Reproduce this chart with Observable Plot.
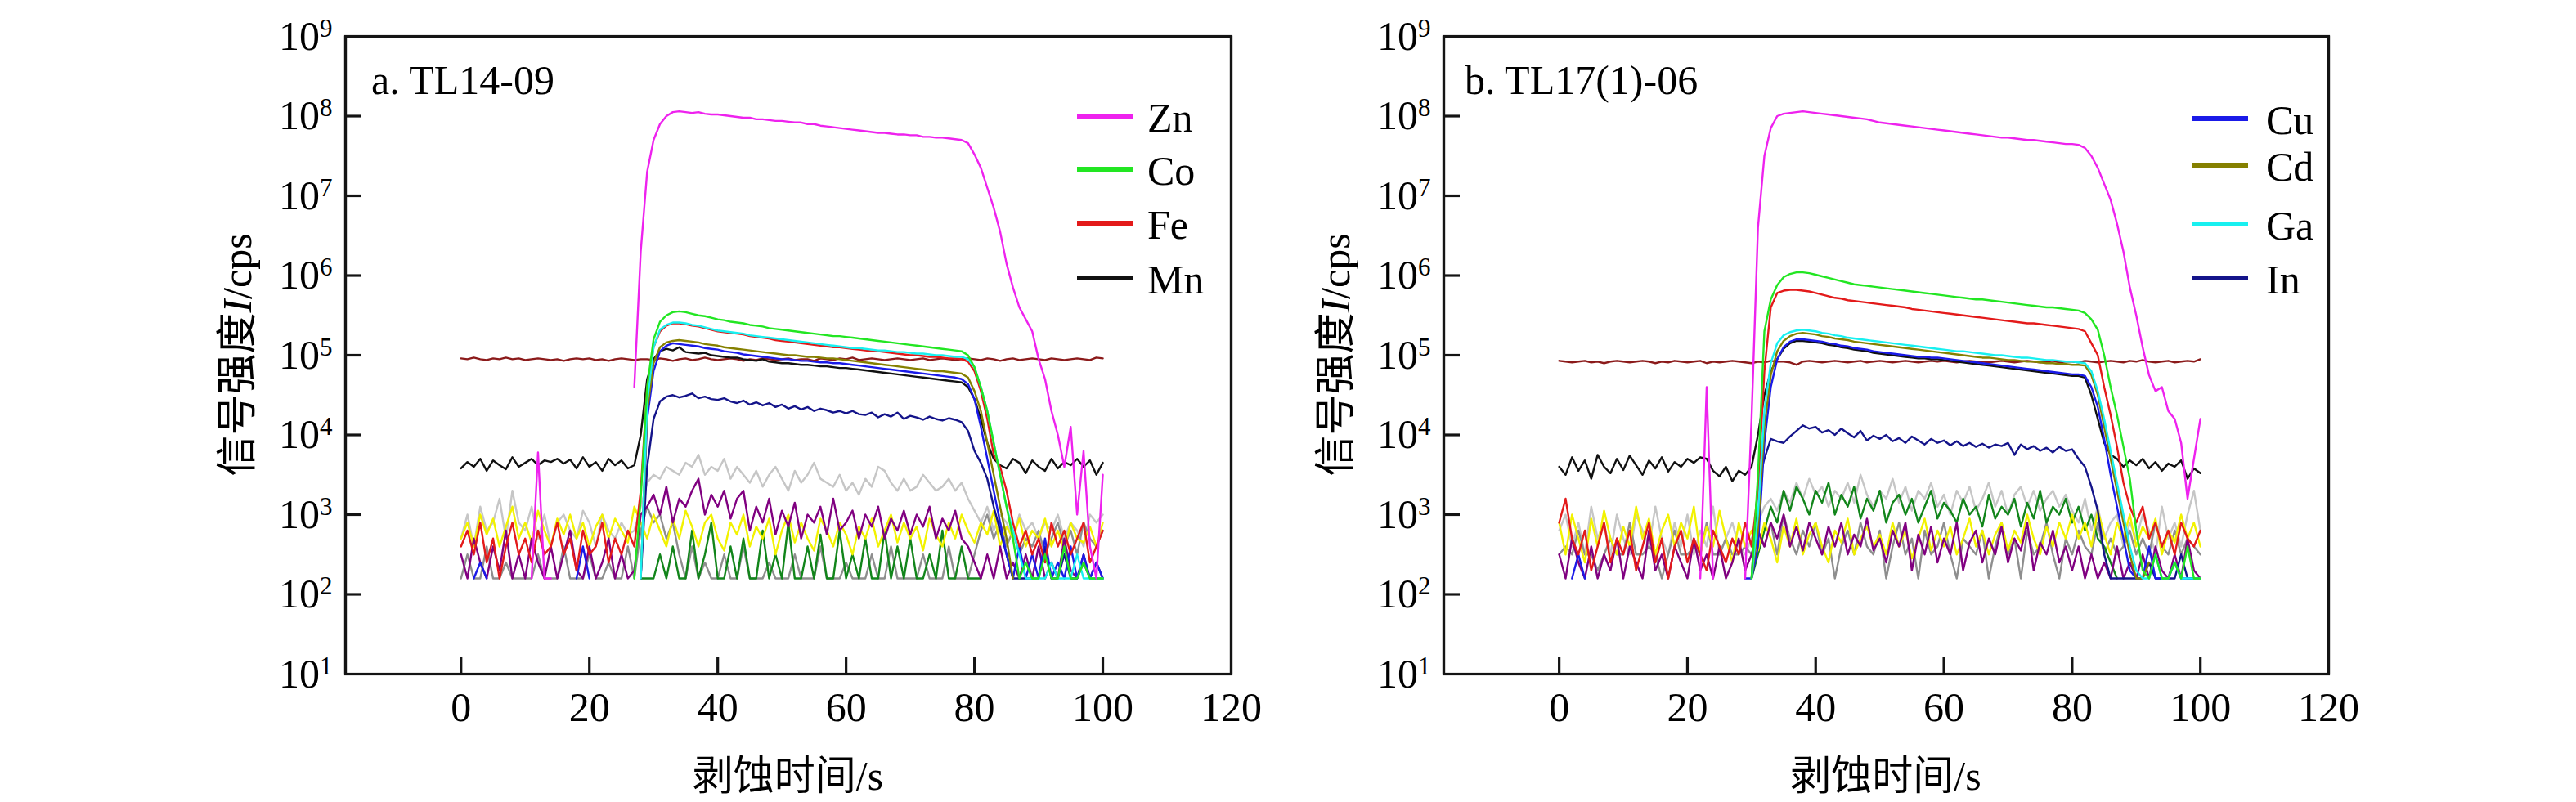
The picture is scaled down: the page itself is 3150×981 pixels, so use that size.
<!DOCTYPE html>
<html><head><meta charset="utf-8">
<script src="https://cdn.jsdelivr.net/npm/d3@7"></script>
<script src="https://cdn.jsdelivr.net/npm/@observablehq/plot@0.6"></script>
<style>
html,body{margin:0;padding:0;background:#fff;}
#wrap{position:relative;width:3150px;height:981px;overflow:hidden;background:#fff;}
#wrap svg{position:absolute;top:0;}
</style></head><body><div id="wrap"></div>
<script>
// ---------- axis / category data ----------
const time = Array.from({length: 101}, (_, i) => i);           // ablation time, s
const xTickLabels = [0, 20, 40, 60, 80, 100, 120];
const xTickMarks = [0, 20, 40, 60, 80, 100];
const yTickLabels = [1e1, 1e2, 1e3, 1e4, 1e5, 1e6, 1e7, 1e8, 1e9];
const yTickMarks = [1e2, 1e3, 1e4, 1e5, 1e6, 1e7, 1e8];
const xLabel = "剥蚀时间/s";
const panelTitles = ["a. TL14-09", "b. TL17(1)-06"];
const legendA = ["Zn", "Co", "Fe", "Mn"];
const legendB = ["Cu", "Cd", "Ga", "In"];

// ---------- series values: log10(I / cps), one value per second (NaN = not drawn) ----------
// Panel a: TL14-09
const a_Zn = [NaN,NaN,NaN,NaN,NaN,NaN,NaN,NaN,NaN,NaN,
 NaN,2.2,3.78,2.2,2.2,NaN,NaN,NaN,NaN,NaN,
 NaN,NaN,NaN,NaN,NaN,NaN,NaN,4.6,6.3,7.3,
 7.7,7.9,8.0,8.05,8.06,8.05,8.04,8.05,8.03,8.02,
 8.02,8.01,8.0,7.99,7.98,7.98,7.96,7.96,7.95,7.94,
 7.94,7.93,7.92,7.92,7.9,7.9,7.88,7.87,7.86,7.85,
 7.84,7.83,7.82,7.81,7.8,7.79,7.79,7.78,7.77,7.77,
 7.76,7.76,7.74,7.74,7.73,7.73,7.72,7.71,7.7,7.66,
 7.52,7.35,7.1,6.85,6.55,6.15,5.85,5.6,5.45,5.3,
 4.95,4.7,4.3,4.0,3.6,4.1,3.0,3.8,2.6,2.2,
 3.5];
const a_Co = [NaN,NaN,NaN,NaN,NaN,NaN,NaN,NaN,NaN,NaN,
 NaN,NaN,NaN,NaN,NaN,NaN,NaN,NaN,NaN,NaN,
 NaN,NaN,NaN,NaN,NaN,NaN,NaN,2.2,3.2,4.6,
 5.2,5.42,5.5,5.54,5.55,5.54,5.52,5.5,5.49,5.47,
 5.45,5.44,5.42,5.41,5.4,5.38,5.37,5.36,5.34,5.33,
 5.32,5.31,5.3,5.29,5.28,5.27,5.26,5.25,5.24,5.24,
 5.23,5.22,5.21,5.2,5.19,5.18,5.17,5.16,5.15,5.14,
 5.13,5.12,5.11,5.1,5.09,5.08,5.07,5.06,5.05,5.0,
 4.85,4.6,4.3,3.9,3.5,3.1,2.7,2.2,2.4,2.2,
 2.2,2.5,2.2,2.2,2.6,2.2,2.2,2.4,2.2,2.2,
 2.2];
const a_Fe = [2.6,2.8,2.5,2.9,2.4,2.7,2.2,2.6,2.9,2.5,
 2.7,2.4,2.8,2.5,2.6,2.9,2.5,2.7,2.3,2.8,
 2.5,2.6,2.9,2.4,2.7,2.5,2.8,2.6,3.3,4.6,
 5.1,5.3,5.37,5.4,5.4,5.39,5.37,5.36,5.34,5.32,
 5.3,5.29,5.28,5.27,5.26,5.24,5.23,5.22,5.21,5.19,
 5.18,5.17,5.16,5.15,5.14,5.13,5.12,5.11,5.1,5.1,
 5.09,5.08,5.07,5.06,5.05,5.05,5.04,5.03,5.02,5.01,
 5.0,5.0,4.99,4.98,4.98,4.97,4.96,4.96,4.95,4.92,
 4.8,4.55,4.2,3.75,3.6,3.3,2.9,2.6,2.8,2.5,
 2.7,2.4,2.9,2.6,2.8,2.5,2.7,2.9,2.4,2.6,
 2.8];
const a_Ga = [NaN,NaN,NaN,NaN,NaN,NaN,NaN,NaN,NaN,NaN,
 NaN,NaN,NaN,NaN,NaN,NaN,NaN,NaN,NaN,NaN,
 NaN,NaN,NaN,NaN,NaN,NaN,NaN,NaN,2.2,4.4,
 5.1,5.32,5.38,5.41,5.41,5.4,5.38,5.37,5.35,5.33,
 5.31,5.3,5.29,5.28,5.27,5.25,5.24,5.23,5.22,5.21,
 5.2,5.19,5.18,5.17,5.16,5.15,5.14,5.13,5.12,5.11,
 5.1,5.09,5.09,5.08,5.07,5.06,5.06,5.05,5.04,5.04,
 5.03,5.02,5.02,5.01,5.0,5.0,4.99,4.98,4.98,4.95,
 4.85,4.6,4.3,3.9,3.5,3.1,2.8,2.5,2.2,2.2,
 2.2,2.2,2.4,2.2,2.2,2.2,2.5,2.2,2.2,2.2,
 2.2];
const a_Cd = [NaN,NaN,NaN,NaN,NaN,NaN,NaN,NaN,NaN,NaN,
 NaN,NaN,NaN,NaN,NaN,NaN,NaN,NaN,NaN,NaN,
 NaN,NaN,NaN,NaN,NaN,NaN,NaN,NaN,2.2,4.3,
 4.9,5.1,5.16,5.18,5.19,5.18,5.17,5.16,5.14,5.13,
 5.12,5.1,5.09,5.08,5.07,5.06,5.05,5.04,5.03,5.02,
 5.01,5.0,5.0,4.99,4.98,4.98,4.97,4.96,4.96,4.95,
 4.94,4.93,4.92,4.91,4.9,4.89,4.88,4.87,4.86,4.85,
 4.84,4.83,4.82,4.81,4.8,4.8,4.79,4.78,4.77,4.72,
 4.55,4.3,3.9,3.5,3.1,2.7,2.2,NaN,NaN,NaN,
 NaN,NaN,NaN,NaN,NaN,NaN,NaN,NaN,NaN,NaN,
 NaN];
const a_Cu = [NaN,NaN,2.2,2.4,2.2,NaN,NaN,NaN,NaN,NaN,
 NaN,NaN,NaN,NaN,NaN,NaN,NaN,NaN,2.2,2.6,
 2.2,NaN,NaN,NaN,NaN,NaN,NaN,NaN,2.2,4.2,
 4.8,5.05,5.12,5.15,5.14,5.13,5.12,5.11,5.09,5.08,
 5.07,5.05,5.04,5.03,5.01,5.0,4.99,4.98,4.97,4.96,
 4.95,4.95,4.94,4.93,4.93,4.92,4.91,4.91,4.9,4.9,
 4.89,4.88,4.87,4.86,4.85,4.84,4.83,4.82,4.81,4.8,
 4.79,4.78,4.77,4.76,4.75,4.74,4.73,4.72,4.7,4.64,
 4.45,4.1,3.7,3.3,2.9,2.5,2.2,2.6,2.2,2.5,
 2.2,2.7,2.2,2.4,2.2,2.6,2.2,2.5,2.2,2.4,
 2.2];
const a_Mn = [3.58,3.66,3.6,3.7,3.55,3.68,3.62,3.57,3.72,3.6,
 3.65,3.7,3.62,3.68,3.66,3.7,3.64,3.69,3.58,3.72,
 3.6,3.66,3.55,3.7,3.62,3.68,3.58,3.62,4.0,4.7,
 4.95,5.05,5.08,5.06,5.1,5.04,5.03,5.02,5.03,5.0,
 4.99,4.98,4.97,4.97,4.95,4.94,4.93,4.95,4.92,4.91,
 4.9,4.9,4.89,4.88,4.88,4.87,4.86,4.86,4.85,4.84,
 4.84,4.83,4.82,4.81,4.8,4.79,4.78,4.77,4.76,4.75,
 4.74,4.73,4.72,4.71,4.7,4.69,4.68,4.67,4.66,4.6,
 4.45,4.2,3.9,3.7,3.62,3.58,3.7,3.65,3.52,3.68,
 3.6,3.55,3.7,3.58,3.66,3.62,3.7,3.6,3.68,3.5,
 3.65];
const a_In = [NaN,NaN,NaN,NaN,NaN,NaN,NaN,NaN,NaN,NaN,
 NaN,NaN,NaN,NaN,NaN,NaN,NaN,NaN,NaN,NaN,
 NaN,NaN,NaN,NaN,NaN,NaN,NaN,NaN,2.2,3.6,
 4.2,4.42,4.48,4.5,4.47,4.49,4.52,4.46,4.48,4.45,
 4.44,4.46,4.42,4.4,4.43,4.38,4.41,4.37,4.4,4.35,
 4.38,4.33,4.36,4.32,4.35,4.3,4.33,4.31,4.28,4.3,
 4.27,4.3,4.26,4.25,4.28,4.22,4.26,4.23,4.28,4.2,
 4.24,4.22,4.19,4.23,4.2,4.18,4.21,4.19,4.16,4.05,
 3.8,3.65,3.45,3.1,2.8,2.5,2.2,2.2,2.2,2.2,
 2.2,2.6,2.2,2.2,2.5,2.2,2.2,2.4,2.2,2.2,
 2.2];
const a_Std = [4.96,4.95,4.97,4.95,4.94,4.96,4.95,4.97,4.95,4.96,
 4.94,4.95,4.96,4.95,4.94,4.95,4.93,4.95,4.96,4.95,
 4.96,4.94,4.95,4.93,4.95,4.96,4.95,4.94,4.95,4.95,
 4.94,4.96,4.95,4.93,4.95,4.96,4.94,4.95,4.97,4.95,
 4.94,4.95,4.96,4.95,4.93,4.95,4.94,4.96,4.95,4.94,
 4.95,4.96,4.94,4.95,4.95,4.93,4.96,4.95,4.94,4.96,
 4.95,4.97,4.94,4.95,4.96,4.95,4.94,4.95,4.96,4.95,
 4.94,4.95,4.96,4.94,4.95,4.96,4.95,4.94,4.95,4.96,
 4.95,4.94,4.96,4.95,4.93,4.95,4.96,4.94,4.95,4.96,
 4.95,4.94,4.96,4.95,4.94,4.95,4.96,4.95,4.94,4.97,
 4.96];
const a_LGray = [2.7,3.0,2.6,3.1,2.8,2.9,3.2,2.7,3.3,2.9,
 2.8,3.1,2.7,3.0,2.6,2.9,3.0,2.8,2.7,3.05,
 2.9,2.6,3.0,2.8,2.7,2.9,2.75,2.8,3.1,3.4,
 3.5,3.45,3.6,3.55,3.5,3.65,3.6,3.75,3.5,3.6,
 3.55,3.7,3.45,3.6,3.5,3.4,3.55,3.35,3.5,3.6,
 3.45,3.3,3.55,3.4,3.5,3.65,3.45,3.4,3.35,3.5,
 3.3,3.4,3.25,3.45,3.35,3.6,3.55,3.4,3.3,3.45,
 3.3,3.35,3.5,3.4,3.3,3.35,3.45,3.3,3.4,3.2,
 3.05,2.9,3.1,2.8,3.0,2.9,2.7,3.0,2.8,2.9,
 2.7,2.9,2.8,3.0,2.7,2.9,2.8,2.6,3.0,2.9,
 3.0];
const a_Gray = [2.2,2.5,2.2,2.2,2.6,2.2,2.2,2.4,2.2,2.2,
 2.2,2.2,2.5,2.2,2.2,2.2,2.6,2.2,2.2,2.2,
 2.5,2.2,2.2,2.4,2.2,2.2,2.6,2.2,2.8,3.1,
 2.9,3.0,2.7,2.9,2.5,2.2,2.6,2.2,2.4,2.2,
 2.2,2.5,2.2,2.2,2.6,2.2,2.2,2.2,2.4,2.2,
 2.2,2.2,2.5,2.2,2.2,2.2,2.6,2.2,2.2,2.2,
 2.4,2.2,2.2,2.2,2.5,2.2,2.2,2.6,2.2,2.2,
 2.2,2.2,2.5,2.2,2.2,2.2,2.6,2.2,2.2,2.2,
 2.5,2.8,3.0,2.7,2.9,2.6,2.8,2.5,2.7,2.6,
 2.8,2.5,2.7,2.9,2.6,2.8,2.5,2.9,2.7,2.6,
 2.8];
const a_Purple = [2.5,2.2,2.7,2.4,2.2,2.6,2.3,2.8,2.2,2.5,
 2.2,2.7,2.4,2.2,2.6,2.2,2.5,2.8,2.3,2.2,
 2.6,2.2,2.4,2.7,2.2,2.5,2.2,2.3,3.0,3.1,
 3.25,3.0,3.35,2.9,3.2,3.1,3.3,3.45,3.0,3.25,
 3.1,3.3,2.95,3.2,3.3,2.8,3.1,2.9,3.2,2.75,
 3.05,2.85,3.15,2.7,3.0,2.9,3.1,2.75,3.2,2.8,
 2.9,3.05,2.7,3.0,2.85,3.1,2.7,2.95,2.8,3.05,
 2.75,3.0,2.85,3.1,2.7,2.95,2.8,3.05,2.7,2.6,
 2.4,2.2,2.5,2.2,2.6,2.2,2.4,2.2,2.5,2.2,
 2.6,2.2,2.4,2.2,2.7,2.3,2.2,2.5,2.2,2.4,
 2.2];
const a_Yellow = [2.7,2.9,2.6,3.0,2.75,2.95,2.6,2.85,3.1,2.7,
 2.9,2.65,3.05,2.8,2.6,2.95,2.75,3.0,2.7,2.9,
 2.6,2.85,3.0,2.7,2.95,2.8,2.65,3.1,2.9,2.7,
 3.0,2.8,2.6,2.95,2.7,3.05,2.85,2.6,2.9,3.0,
 2.7,2.55,2.9,2.75,3.0,2.6,2.85,2.7,2.95,2.5,
 2.8,3.0,2.65,2.9,2.7,2.55,2.95,2.8,2.6,2.9,
 2.75,2.5,2.85,2.7,2.95,2.6,2.8,3.0,2.65,2.9,
 2.7,2.85,2.55,2.95,2.75,2.6,2.9,2.7,3.0,2.8,
 2.65,2.9,2.75,3.05,2.6,2.85,2.7,2.95,2.6,2.8,
 2.7,2.95,2.6,2.8,2.55,2.9,2.7,2.65,2.85,2.6,
 2.9];
const a_DGreen = [NaN,NaN,NaN,NaN,NaN,NaN,NaN,NaN,NaN,NaN,
 NaN,NaN,NaN,NaN,NaN,NaN,NaN,NaN,NaN,NaN,
 NaN,NaN,NaN,NaN,NaN,NaN,NaN,NaN,2.2,2.2,
 2.2,2.5,2.2,2.6,2.2,2.2,2.8,2.2,2.5,2.9,
 2.2,2.2,2.6,2.2,2.7,2.2,2.2,2.8,2.2,2.5,
 2.2,2.9,2.2,2.2,2.6,2.2,2.75,2.2,2.2,2.8,
 2.2,2.5,2.2,2.7,2.2,2.2,2.8,2.2,2.6,2.2,
 2.7,2.2,2.2,2.5,2.2,2.8,2.2,2.2,2.6,2.2,
 2.2,2.2,NaN,NaN,NaN,NaN,NaN,NaN,NaN,NaN,
 NaN,NaN,NaN,NaN,NaN,NaN,NaN,NaN,NaN,NaN,
 NaN];

// Panel b: TL17(1)-06
const b_Zn = [NaN,NaN,NaN,NaN,NaN,NaN,NaN,NaN,NaN,NaN,
 NaN,NaN,NaN,NaN,NaN,NaN,NaN,NaN,NaN,NaN,
 NaN,NaN,2.2,4.6,2.2,NaN,NaN,NaN,NaN,2.2,
 4.2,6.6,7.5,7.85,8.0,8.03,8.04,8.05,8.06,8.05,
 8.04,8.03,8.02,8.01,8.0,7.99,7.98,7.97,7.96,7.94,
 7.92,7.91,7.9,7.89,7.88,7.87,7.86,7.85,7.84,7.83,
 7.82,7.81,7.8,7.79,7.78,7.77,7.76,7.75,7.74,7.73,
 7.73,7.72,7.71,7.7,7.7,7.69,7.68,7.67,7.66,7.65,
 7.65,7.64,7.6,7.5,7.35,7.15,6.95,6.65,6.3,5.85,
 5.5,5.1,4.75,4.55,4.6,4.3,4.2,3.9,3.2,3.7,
 4.2];
const b_Co = [NaN,NaN,NaN,NaN,NaN,NaN,NaN,NaN,NaN,NaN,
 NaN,NaN,NaN,NaN,NaN,NaN,NaN,NaN,NaN,NaN,
 NaN,NaN,NaN,NaN,NaN,NaN,NaN,NaN,NaN,NaN,
 2.2,3.5,5.3,5.7,5.88,5.98,6.02,6.04,6.04,6.03,
 6.01,5.99,5.97,5.95,5.93,5.91,5.89,5.88,5.87,5.86,
 5.85,5.84,5.83,5.82,5.81,5.8,5.79,5.78,5.77,5.76,
 5.75,5.74,5.73,5.72,5.71,5.7,5.7,5.69,5.68,5.67,
 5.66,5.65,5.64,5.63,5.62,5.61,5.6,5.6,5.59,5.58,
 5.57,5.56,5.53,5.45,5.32,5.0,4.6,4.25,3.85,3.45,
 2.8,2.3,2.2,2.5,2.2,2.2,2.4,2.2,2.6,2.2,
 2.2];
const b_Fe = [2.9,3.2,2.7,2.5,2.8,2.3,2.6,2.9,2.4,2.7,
 2.5,2.8,2.3,2.6,2.9,2.4,2.7,2.2,2.6,2.8,
 2.4,2.7,2.5,2.3,2.8,2.6,2.4,2.7,2.5,2.9,
 2.6,3.3,4.8,5.6,5.78,5.81,5.82,5.82,5.81,5.8,
 5.78,5.76,5.74,5.72,5.71,5.69,5.68,5.67,5.66,5.65,
 5.64,5.63,5.62,5.61,5.6,5.58,5.57,5.56,5.55,5.54,
 5.53,5.52,5.51,5.5,5.49,5.48,5.47,5.46,5.45,5.44,
 5.43,5.42,5.41,5.4,5.4,5.39,5.38,5.37,5.36,5.35,
 5.34,5.33,5.3,5.15,5.0,4.6,4.25,3.85,3.4,3.1,
 2.9,3.1,2.7,2.9,2.6,2.8,2.5,2.9,2.7,2.6,
 2.8];
const b_Ga = [NaN,NaN,NaN,NaN,NaN,NaN,NaN,NaN,NaN,NaN,
 NaN,NaN,NaN,NaN,NaN,NaN,NaN,NaN,NaN,NaN,
 NaN,NaN,NaN,NaN,NaN,NaN,NaN,NaN,NaN,NaN,
 2.2,3.0,4.3,4.9,5.15,5.25,5.29,5.31,5.32,5.31,
 5.3,5.28,5.27,5.25,5.24,5.22,5.21,5.2,5.19,5.18,
 5.17,5.16,5.15,5.14,5.13,5.12,5.11,5.1,5.09,5.08,
 5.07,5.06,5.05,5.05,5.04,5.03,5.02,5.01,5.0,5.0,
 4.99,4.98,4.97,4.97,4.96,4.95,4.94,4.94,4.93,4.92,
 4.92,4.91,4.9,4.8,4.55,4.2,3.8,3.4,3.0,2.6,
 2.3,2.2,2.2,2.5,2.2,2.2,2.4,2.2,2.2,2.2,
 2.2];
const b_Cd = [NaN,NaN,NaN,NaN,NaN,NaN,NaN,NaN,NaN,NaN,
 NaN,NaN,NaN,NaN,NaN,NaN,NaN,NaN,NaN,NaN,
 NaN,NaN,NaN,NaN,NaN,NaN,NaN,NaN,NaN,NaN,
 2.2,2.8,4.1,4.75,5.05,5.18,5.24,5.27,5.28,5.27,
 5.26,5.24,5.23,5.21,5.2,5.19,5.17,5.16,5.15,5.14,
 5.13,5.12,5.11,5.1,5.09,5.08,5.07,5.06,5.05,5.04,
 5.03,5.02,5.01,5.0,4.99,4.98,4.97,4.97,4.96,4.95,
 4.94,4.94,4.93,4.92,4.92,4.91,4.9,4.9,4.89,4.89,
 4.88,4.88,4.87,4.75,4.5,4.1,3.7,3.3,2.9,2.5,
 2.2,2.2,2.4,NaN,NaN,NaN,NaN,NaN,NaN,NaN,
 NaN];
const b_Cu = [NaN,NaN,2.2,2.5,2.2,NaN,NaN,NaN,NaN,NaN,
 NaN,NaN,NaN,NaN,NaN,NaN,NaN,NaN,NaN,NaN,
 NaN,NaN,NaN,NaN,NaN,NaN,NaN,NaN,NaN,2.2,
 2.2,2.6,3.9,4.6,4.95,5.1,5.17,5.2,5.2,5.19,
 5.18,5.17,5.15,5.14,5.12,5.11,5.09,5.08,5.07,5.05,
 5.04,5.03,5.02,5.01,5.0,4.99,4.98,4.98,4.97,4.97,
 4.96,4.95,4.94,4.93,4.92,4.91,4.9,4.89,4.88,4.87,
 4.86,4.85,4.84,4.83,4.82,4.81,4.8,4.79,4.78,4.77,
 4.76,4.76,4.74,4.6,4.35,3.95,3.5,3.1,2.7,2.3,
 2.2,2.2,2.6,2.2,2.2,2.2,2.4,2.2,2.2,2.2,
 2.2];
const b_Mn = [3.6,3.5,3.72,3.55,3.68,3.45,3.75,3.6,3.52,3.7,
 3.56,3.74,3.62,3.5,3.68,3.58,3.72,3.54,3.66,3.6,
 3.7,3.65,3.72,3.7,3.55,3.48,3.6,3.42,3.55,3.5,
 3.6,4.0,4.5,4.8,4.95,5.08,5.15,5.18,5.18,5.17,
 5.16,5.15,5.13,5.12,5.1,5.09,5.07,5.06,5.05,5.03,
 5.02,5.01,5.0,4.99,4.98,4.97,4.96,4.96,4.95,4.95,
 4.94,4.93,4.92,4.91,4.9,4.89,4.88,4.87,4.86,4.85,
 4.84,4.83,4.82,4.81,4.8,4.79,4.78,4.77,4.76,4.75,
 4.74,4.74,4.72,4.5,4.2,3.9,3.75,3.7,3.6,3.68,
 3.62,3.7,3.58,3.66,3.55,3.64,3.6,3.68,3.45,3.58,
 3.52];
const b_In = [NaN,NaN,NaN,NaN,NaN,NaN,NaN,NaN,NaN,NaN,
 NaN,NaN,NaN,NaN,NaN,NaN,NaN,NaN,NaN,NaN,
 NaN,NaN,NaN,NaN,NaN,NaN,NaN,NaN,NaN,NaN,
 2.2,3.4,3.7,3.95,3.92,3.9,3.98,4.05,4.12,4.08,
 4.1,4.03,4.06,4.0,4.08,4.02,3.97,4.05,3.93,3.99,
 3.95,4.0,3.92,3.96,3.9,3.98,3.93,3.88,3.95,3.9,
 3.93,3.87,3.92,3.86,3.9,3.85,3.89,3.84,3.88,3.86,
 3.9,3.75,3.88,3.82,3.86,3.8,3.84,3.78,3.85,3.8,
 3.82,3.7,3.6,3.35,3.05,2.5,2.2,2.2,2.2,2.2,
 2.2,2.2,2.4,2.2,2.2,2.2,2.2,2.5,2.2,2.2,
 2.2];
const b_Std = [4.93,4.92,4.91,4.92,4.93,4.91,4.92,4.9,4.92,4.93,
 4.92,4.91,4.92,4.93,4.92,4.9,4.92,4.91,4.93,4.92,
 4.91,4.92,4.93,4.9,4.92,4.91,4.92,4.93,4.92,4.91,
 4.9,4.92,4.91,4.93,4.92,4.92,4.91,4.88,4.92,4.93,
 4.92,4.91,4.92,4.93,4.92,4.91,4.92,4.93,4.91,4.92,
 4.93,4.92,4.91,4.92,4.93,4.92,4.91,4.92,4.93,4.92,
 4.93,4.92,4.91,4.92,4.93,4.92,4.92,4.91,4.92,4.93,
 4.92,4.91,4.92,4.93,4.92,4.91,4.92,4.93,4.91,4.92,
 4.92,4.91,4.93,4.92,4.91,4.92,4.93,4.92,4.91,4.93,
 4.92,4.94,4.92,4.91,4.92,4.93,4.91,4.92,4.93,4.92,
 4.95];
const b_LGray = [2.8,3.0,2.6,2.9,2.5,3.1,2.7,2.9,2.5,3.0,
 2.7,2.5,3.0,2.8,2.6,3.1,2.7,2.5,2.9,2.6,
 3.0,2.5,2.8,2.6,3.1,2.5,2.7,2.9,2.6,2.5,
 2.7,2.9,3.1,3.2,3.05,3.3,3.15,3.4,3.2,3.45,
 3.25,3.35,3.1,3.3,3.2,3.4,3.15,3.5,3.25,3.1,
 3.3,3.2,3.45,3.15,3.35,3.05,3.3,3.2,3.4,3.1,
 3.25,3.0,3.3,3.15,3.35,3.05,3.2,3.4,3.1,3.3,
 3.0,3.25,3.35,3.1,3.3,3.05,3.2,3.3,3.1,3.25,
 3.05,2.9,3.2,2.8,3.1,2.7,2.9,3.0,2.6,2.9,
 2.7,3.0,2.8,2.5,3.1,2.7,2.9,2.6,3.0,3.3,
 2.8];
const b_Gray = [2.5,2.6,2.5,2.8,2.5,2.5,2.3,2.5,2.7,2.5,
 2.5,2.9,2.5,2.5,2.6,2.5,2.2,2.5,2.8,2.5,
 2.5,2.6,2.5,2.9,2.5,2.5,2.7,2.5,2.5,2.6,
 2.5,2.8,2.6,2.9,2.5,3.0,2.7,2.5,2.8,2.6,
 2.9,2.5,2.7,2.2,2.6,2.8,2.5,2.9,2.6,2.5,
 2.8,2.2,2.6,2.9,2.5,2.7,2.2,2.8,2.5,2.6,
 2.9,2.5,2.2,2.7,2.6,2.5,2.8,2.2,2.6,2.9,
 2.5,2.7,2.2,2.8,2.5,2.6,2.9,2.5,2.2,2.7,
 2.5,2.8,2.6,2.5,2.9,2.5,2.7,2.5,2.6,2.8,
 2.5,2.7,2.5,2.9,2.6,2.5,2.8,2.5,2.7,2.6,
 2.5];
const b_Purple = [2.5,2.2,2.7,2.4,2.2,2.6,2.2,2.5,2.3,2.7,
 2.2,2.6,2.4,2.2,2.8,2.3,2.5,2.2,2.6,2.4,
 2.2,2.7,2.3,2.5,2.2,2.6,2.2,2.4,2.7,2.3,
 2.5,2.8,2.6,2.9,2.7,3.0,2.6,2.85,2.55,2.9,
 2.7,2.5,2.85,2.6,2.9,2.5,2.75,2.6,2.95,2.55,
 2.7,2.4,2.8,2.6,2.9,2.3,2.75,2.5,2.85,2.4,
 2.7,2.5,2.9,2.3,2.65,2.8,2.4,2.7,2.5,2.85,
 2.4,2.7,2.55,2.9,2.3,2.65,2.5,2.8,2.4,2.6,
 2.3,2.6,2.2,2.5,2.2,2.4,2.2,2.6,2.2,2.4,
 2.2,2.5,2.2,2.6,2.3,2.2,2.5,2.2,2.7,2.3,
 2.2];
const b_Yellow = [2.9,2.5,3.0,2.7,2.4,2.95,2.6,3.05,2.7,2.5,
 2.85,2.6,3.1,2.7,2.95,2.5,2.8,3.0,2.6,2.9,
 2.7,3.1,2.5,2.85,2.6,3.05,2.7,2.4,2.9,2.6,
 2.8,2.55,2.9,2.7,2.4,2.85,2.6,2.95,2.5,2.75,
 2.9,2.6,2.4,2.8,2.65,2.95,2.5,2.7,2.85,2.6,
 2.75,2.5,2.9,2.6,2.8,2.45,2.7,2.95,2.55,2.8,
 2.6,2.85,2.5,2.7,2.95,2.6,2.8,2.5,2.75,2.9,
 2.55,2.8,2.65,3.0,2.7,2.5,2.85,2.6,2.9,2.7,
 3.0,2.7,2.9,2.6,3.05,2.75,2.5,2.9,2.7,3.0,
 2.6,2.85,2.7,2.95,2.5,2.8,2.65,3.0,2.7,2.9,
 2.6];
const b_DGreen = [NaN,NaN,NaN,NaN,NaN,NaN,NaN,NaN,NaN,NaN,
 NaN,NaN,NaN,NaN,NaN,NaN,NaN,NaN,NaN,NaN,
 NaN,NaN,NaN,NaN,NaN,NaN,NaN,NaN,NaN,NaN,
 2.2,2.5,2.8,3.1,2.9,3.3,3.05,3.35,3.2,3.0,
 3.3,3.15,3.4,3.0,3.25,3.1,3.35,2.95,3.2,3.05,
 3.3,2.9,3.15,3.25,3.0,3.2,2.9,3.1,3.3,2.95,
 3.15,3.05,2.9,3.2,3.0,3.1,2.85,3.25,2.95,3.1,
 3.0,3.2,2.85,3.15,2.95,3.3,2.9,3.1,3.0,3.2,
 2.9,3.1,2.8,3.0,2.7,2.6,2.4,2.2,NaN,NaN,
 NaN,NaN,NaN,NaN,NaN,NaN,NaN,NaN,NaN,NaN,
 NaN];

// ---------- colours ----------
const colors = {Zn:"#ee22ee", Co:"#22e622", Fe:"#e31a1a", Mn:"#111111", Cu:"#1a1ae8", Cd:"#858000",
  Ga:"#18f0f0", In:"#14148a", Std:"#8b1a1a", LGray:"#c6c6c6", Gray:"#8e8e8e", Purple:"#800080",
  Yellow:"#f2f200", DGreen:"#12851b"};
const INK = "#141414";

const FONT = "'Liberation Serif','Times New Roman','Noto Sans CJK SC',serif";
const W = 1575, H = 981, MT = 44, MB = 157;
const X_DOMAIN = [-18, 120], Y_DOMAIN = [10, 1e9];
const wrap = document.getElementById("wrap");

function rows(vals) { return vals.map((v, i) => ({t: time[i], c: Number.isNaN(v) ? NaN : Math.pow(10, v)})); }

function panel(cfg) {
  const fw = W - cfg.ml - cfg.mr, fh = H - MT - MB;
  const marks = [];
  for (const s of cfg.series) {
    marks.push(Plot.line(rows(s.v), {x: "t", y: "c", stroke: colors[s.k], strokeWidth: 2.4, strokeLinejoin: "round"}));
  }
  // frame as four rules on the plot's own scales
  marks.push(Plot.ruleX([X_DOMAIN[0], X_DOMAIN[1]], {x: d => d, stroke: INK, strokeWidth: 3.2}));
  marks.push(Plot.ruleY([Y_DOMAIN[0], Y_DOMAIN[1]], {y: d => d, stroke: INK, strokeWidth: 3.2}));
  marks.push(Plot.frame({stroke: INK, strokeWidth: 3.2}));
  marks.push(Plot.tickX(xTickMarks, {x: d => d, insetTop: fh - 20, stroke: INK, strokeWidth: 3.2}));
  marks.push(Plot.tickY(yTickMarks, {y: d => d, insetRight: fw - 20, stroke: INK, strokeWidth: 3.2}));
  marks.push(Plot.axisX({ticks: xTickLabels, tickSize: 0, tickPadding: 22, label: null, tickFormat: d => String(d)}));
  marks.push(Plot.axisY({ticks: yTickLabels, tickSize: 0, tickPadding: 16, label: null,
    tickFormat: d => "10^" + Math.round(Math.log10(d))}));
  const svg = Plot.plot({
    width: W, height: H, marginLeft: cfg.ml, marginRight: cfg.mr, marginTop: MT, marginBottom: MB,
    x: {domain: X_DOMAIN},
    y: {type: "log", domain: Y_DOMAIN},
    style: {fontFamily: FONT, fontSize: "50px", background: "transparent", color: "#000", overflow: "visible"},
    marks
  });
  const S = d3.select(svg);
  S.selectAll('g[aria-label="y-axis tick label"] text').each(function () {
    const parts = this.textContent.split("^");
    if (parts.length < 2) return;
    const t = d3.select(this);
    t.text(null);
    t.append("tspan").text(parts[0]);
    t.append("tspan").attr("dy", "-16").attr("font-size", "31px").text(parts[1]);
  });
  const g = S.append("g").attr("font-family", FONT).attr("fill", "#000").attr("text-anchor", "start");
  const yl = g.append("text").attr("transform", `translate(${cfg.ml - 133},${MT + fh / 2}) rotate(-90)`)
    .attr("text-anchor", "middle").attr("dy", "0.35em").attr("font-size", 50);
  yl.append("tspan").text("信号强度");
  yl.append("tspan").attr("font-style", "italic").text("I");
  yl.append("tspan").text("/cps");
  g.append("text").attr("x", cfg.ml + fw / 2).attr("y", 966).attr("text-anchor", "middle")
    .attr("font-size", 50).text(xLabel);
  g.append("text").attr("x", cfg.ml + cfg.titleDx).attr("y", 115).attr("text-anchor", "start")
    .attr("font-size", 50).text(cfg.title);
  cfg.legend.forEach((k, i) => {
    const y = cfg.legY[i];
    g.append("line").attr("x1", cfg.legX[0]).attr("x2", cfg.legX[1]).attr("y1", y).attr("y2", y)
      .attr("stroke", colors[k]).attr("stroke-width", 6);
    g.append("text").attr("x", cfg.legX[2]).attr("y", y).attr("dy", "0.37em").attr("text-anchor", "start")
      .attr("font-size", 50).text(k);
  });
  svg.style.left = cfg.left + "px";
  wrap.appendChild(svg);
  return svg;
}

const seriesA = [
  {k: "LGray", v: a_LGray}, {k: "Gray", v: a_Gray}, {k: "DGreen", v: a_DGreen}, {k: "Yellow", v: a_Yellow},
  {k: "Purple", v: a_Purple}, {k: "Std", v: a_Std}, {k: "In", v: a_In}, {k: "Mn", v: a_Mn},
  {k: "Cu", v: a_Cu}, {k: "Cd", v: a_Cd}, {k: "Fe", v: a_Fe}, {k: "Ga", v: a_Ga}, {k: "Co", v: a_Co}, {k: "Zn", v: a_Zn}
];
const seriesB = [
  {k: "LGray", v: b_LGray}, {k: "Gray", v: b_Gray}, {k: "DGreen", v: b_DGreen}, {k: "Yellow", v: b_Yellow},
  {k: "Purple", v: b_Purple}, {k: "Std", v: b_Std}, {k: "In", v: b_In}, {k: "Mn", v: b_Mn},
  {k: "Cu", v: b_Cu}, {k: "Cd", v: b_Cd}, {k: "Fe", v: b_Fe}, {k: "Ga", v: b_Ga}, {k: "Co", v: b_Co}, {k: "Zn", v: b_Zn}
];

panel({left: 0, ml: 422, mr: 70, series: seriesA, title: panelTitles[0], titleDx: 32,
  legend: legendA, legY: [142, 207, 273, 340], legX: [1317, 1385, 1403]});
panel({left: 1575, ml: 190, mr: 303, series: seriesB, title: panelTitles[1], titleDx: 26,
  legend: legendB, legY: [145, 202, 274, 340], legX: [1105, 1174, 1196]});
</script></body></html>
